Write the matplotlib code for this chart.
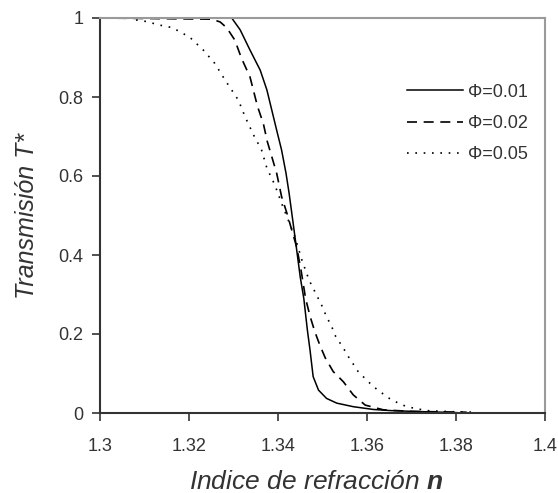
import matplotlib
matplotlib.use("Agg")
import matplotlib.pyplot as plt

plt.rcParams['font.family'] = ['Liberation Sans', 'DejaVu Sans']
plt.rcParams['mathtext.fontset'] = 'custom'
plt.rcParams['mathtext.bfit'] = 'Liberation Sans:italic:bold'
plt.rcParams['mathtext.it'] = 'Liberation Sans:italic'
plt.rcParams['mathtext.rm'] = 'Liberation Sans'

# Transmission curves T*(n) for three volume fractions
n_01 = [1.300, 1.3296, 1.3315, 1.3337, 1.3360, 1.3375, 1.3386, 1.3397, 1.3408, 1.3418,
        1.3425, 1.3433, 1.3440, 1.3450, 1.3458, 1.3466, 1.3472, 1.3479, 1.3491, 1.3509,
        1.3532, 1.3569, 1.3614, 1.3654, 1.3734, 1.3800]
t_01 = [1.0, 1.0, 0.970, 0.919, 0.868, 0.818, 0.767, 0.716, 0.666, 0.607,
        0.556, 0.489, 0.430, 0.344, 0.290, 0.210, 0.159, 0.092, 0.058, 0.037,
        0.025, 0.016, 0.009, 0.006, 0.003, 0.001]

n_02 = [1.300, 1.3251, 1.3270, 1.3285, 1.3303, 1.3318, 1.3337, 1.3354, 1.3367, 1.3376,
        1.3386, 1.3397, 1.3408, 1.3420, 1.3431, 1.3442, 1.3452, 1.3462, 1.3472, 1.3483,
        1.3494, 1.3506, 1.3524, 1.3547, 1.3569, 1.3596, 1.3637, 1.3700, 1.3824]
t_02 = [1.0, 0.997, 0.990, 0.975, 0.944, 0.898, 0.851, 0.776, 0.733, 0.687,
        0.649, 0.607, 0.548, 0.506, 0.463, 0.420, 0.360, 0.290, 0.245, 0.205,
        0.172, 0.140, 0.105, 0.079, 0.046, 0.020, 0.008, 0.004, 0.002]

n_05 = [1.3081, 1.3105, 1.3124, 1.3142, 1.3161, 1.3180, 1.3202, 1.3232, 1.3258, 1.3281,
        1.3311, 1.3326, 1.3345, 1.3363, 1.3375, 1.3393, 1.3408, 1.3420, 1.3438, 1.3454,
        1.3470, 1.3498, 1.3509, 1.3521, 1.3528, 1.3547, 1.3558, 1.3580, 1.3603, 1.3622,
        1.3655, 1.3689, 1.3734, 1.3798, 1.3846]
t_05 = [0.995, 0.991, 0.985, 0.980, 0.976, 0.965, 0.951, 0.919, 0.885, 0.843,
        0.792, 0.750, 0.704, 0.666, 0.620, 0.577, 0.531, 0.497, 0.446, 0.386,
        0.336, 0.273, 0.244, 0.218, 0.197, 0.164, 0.143, 0.105, 0.079, 0.060,
        0.033, 0.016, 0.006, 0.003, 0.002]

labels = ['Φ=0.01', 'Φ=0.02', 'Φ=0.05']
x_ticks = [1.3, 1.32, 1.34, 1.36, 1.38, 1.4]
x_tick_labels = ['1.3', '1.32', '1.34', '1.36', '1.38', '1.4']
y_ticks = [0, 0.2, 0.4, 0.6, 0.8, 1]
y_tick_labels = ['0', '0.2', '0.4', '0.6', '0.8', '1']

W, H = 558, 493
fig = plt.figure(figsize=(W / 100, H / 100), dpi=100)
ax = fig.add_axes([100 / W, (H - 413) / H, 445 / W, 395 / H])

ax.plot(n_01, t_01, color='black', lw=1.1, ls='-', label=labels[0])
ax.plot(n_02, t_02, color='black', lw=1.2, ls=(0, (6, 4)), label=labels[1])
ax.plot(n_05, t_05, color='black', lw=1.2, ls=(0, (1, 4)), label=labels[2])

ax.set_xlim(1.3, 1.4)
ax.set_ylim(0, 1)
ax.set_xticks(x_ticks)
ax.set_xticklabels(x_tick_labels)
ax.set_yticks(y_ticks)
ax.set_yticklabels(y_tick_labels)

for side in ('left', 'bottom'):
    ax.spines[side].set_color('#333333')
    ax.spines[side].set_linewidth(1.5)
for side in ('top', 'right'):
    ax.spines[side].set_color('#9a9a9a')
    ax.spines[side].set_linewidth(1.5)

ax.tick_params(axis='both', direction='out', length=6, width=1.2, color='#333333',
               labelsize=13, labelcolor='#333333')
ax.tick_params(axis='x', pad=12)
ax.tick_params(axis='y', pad=6)

ax.set_xlabel(r'Indice de refracción $\mathbfit{n}$', fontsize=19, style='italic',
              color='#333333', labelpad=11)
ax.xaxis.label.set_x((316.5 - 100) / 445)
ax.set_ylabel('Transmisión T*', fontsize=18, style='italic', color='#333333', labelpad=14)

leg = ax.legend(loc='upper left', bbox_to_anchor=(0.690, 0.834), frameon=False,
                fontsize=13, handlelength=3.1, handletextpad=0.28, labelspacing=0.79,
                borderpad=0, borderaxespad=0)
for t in leg.get_texts():
    t.set_color('#333333')

fig.savefig('out.png', dpi=100)
